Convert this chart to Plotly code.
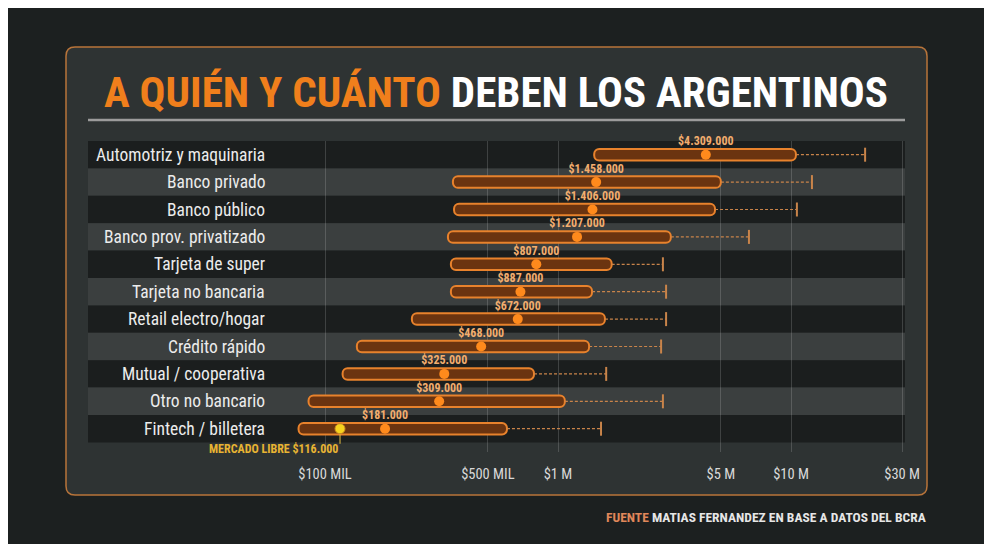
import numpy as np
import plotly.graph_objects as go

categories = [
    "Automotriz y maquinaria", "Banco privado", "Banco público",
    "Banco prov. privatizado", "Tarjeta de super", "Tarjeta no bancaria",
    "Retail electro/hogar", "Crédito rápido", "Mutual / cooperativa",
    "Otro no bancario", "Fintech / billetera",
]
low = [1430000, 354000, 358000, 337000, 347000, 347000, 236000, 137000, 119000, 85000, 77000]
high = [10500000, 5000000, 4720000, 3050000, 1700000, 1400000, 1590000, 1360000, 789000, 1070000, 604000]
median = [4309000, 1458000, 1406000, 1207000, 807000, 690000, 672000, 468000, 325000, 309000, 181000]
median_labels = ["$4.309.000", "$1.458.000", "$1.406.000", "$1.207.000", "$807.000", "$887.000",
                 "$672.000", "$468.000", "$325.000", "$309.000", "$181.000"]
top = [20800000, 12300000, 10600000, 6600000, 2820000, 2910000, 2910000, 2770000, 1610000, 2820000, 1530000]

ml_value = 116000
ml_label = "MERCADO LIBRE $116.000"

tick_vals = [1e5, 5e5, 1e6, 5e6, 1e7, 3e7]
tick_text = ["$100 MIL", "$500 MIL", "$1 M", "$5 M", "$10 M", "$30 M"]

FONT = "Roboto Condensed, Liberation Sans Narrow, DejaVu Sans Condensed, Roboto, sans-serif"
ORANGE = "#f07f1c"

# page body has an 8px margin, so the figure is shifted by OFF
OFF = 8
W, H = 992 - OFF, 544 - OFF
# plot area in screen pixels
L, R, T, B = 88, 905, 141, 452


def px(x):
    return (x - L) / (R - L)


def py(y):
    return (B - y) / (B - T)


def rounded_rect(x0, y0, x1, y1, r):
    pts = [
        f"M {px(x0 + r)},{py(y0)}", f"L {px(x1 - r)},{py(y0)}", f"Q {px(x1)},{py(y0)} {px(x1)},{py(y0 + r)}",
        f"L {px(x1)},{py(y1 - r)}", f"Q {px(x1)},{py(y1)} {px(x1 - r)},{py(y1)}",
        f"L {px(x0 + r)},{py(y1)}", f"Q {px(x0)},{py(y1)} {px(x0)},{py(y1 - r)}",
        f"L {px(x0)},{py(y0 + r)}", f"Q {px(x0)},{py(y0)} {px(x0 + r)},{py(y0)}", "Z",
    ]
    return " ".join(pts)


n = len(categories)
rows = list(range(n))

fig = go.Figure()

# dashed whiskers from box end to max
wx, wy = [], []
for i in rows:
    wx += [high[i], top[i], None]
    wy += [i, i, None]
fig.add_trace(go.Scatter(x=wx, y=wy, mode="lines",
                         line=dict(color="#c9844a", width=1.2, dash="3px,2px"), hoverinfo="skip"))
fig.add_trace(go.Scatter(x=top, y=rows, mode="markers",
                         marker=dict(symbol="line-ns", size=10, line=dict(color="#c9844a", width=2)),
                         hoverinfo="skip"))

# range boxes
fig.add_trace(go.Bar(
    y=rows, x=[h - l for h, l in zip(high, low)], base=low, orientation="h", width=0.42,
    marker=dict(color="#6b3410", line=dict(color="#e8822c", width=2), cornerradius=5),
    hoverinfo="skip",
))

# medians
fig.add_trace(go.Scatter(
    x=median, y=rows, mode="markers", marker=dict(color="#ff8a1c", size=10), hoverinfo="skip",
))
# median value labels, just above the dot
fig.add_trace(go.Scatter(
    x=median, y=[i - 0.46 for i in rows], mode="text", cliponaxis=False,
    text=[f"<b>{t}</b>" for t in median_labels], textposition="middle center",
    textfont=dict(family=FONT, size=12, color="#f2ad6e"),
    hoverinfo="skip",
))

# Mercado Libre reference
fig.add_trace(go.Scatter(x=[ml_value, ml_value], y=[n - 1 + 0.2, n - 1 + 0.55], mode="lines",
                         line=dict(color="#e8c040", width=1), hoverinfo="skip"))
fig.add_trace(go.Scatter(x=[ml_value], y=[n - 1], mode="markers",
                         marker=dict(color="#f6d21e", size=10, line=dict(color="#c98a20", width=1)),
                         hoverinfo="skip"))

shapes = [
    dict(type="path", xref="paper", yref="paper", path=rounded_rect(66, 47, 927, 495, 9),
         fillcolor="#2e3333", line=dict(color="#b8743a", width=1.5), layer="below"),
    dict(type="line", xref="paper", yref="paper", x0=px(88), x1=px(905), y0=py(120), y1=py(120),
         line=dict(color="#9c9c9c", width=2.5)),
]
for i in rows:
    shapes.append(dict(type="rect", xref="x domain", yref="y", x0=0, x1=1, y0=i - 0.5, y1=i + 0.5,
                       fillcolor="#1b1e1e" if i % 2 == 0 else "#3b3f3f", line=dict(width=0),
                       layer="below"))

annotations = [
    dict(xref="paper", yref="paper", x=px(496), y=py(92), xanchor="center", yanchor="middle",
         showarrow=False,
         text=f"<b><span style='color:{ORANGE}'>A QUIÉN Y CUÁNTO</span> DEBEN LOS ARGENTINOS</b>",
         font=dict(family=FONT, size=43, color="#ffffff")),
    dict(xref="paper", yref="paper", x=px(928), y=py(517), xanchor="right", yanchor="middle",
         showarrow=False,
         text="<b><span style='color:#e0875a'>FUENTE</span> MATIAS FERNANDEZ EN BASE A DATOS DEL BCRA</b>",
         font=dict(family=FONT, size=13.5, color="#e6e6e6")),
    dict(xref="x", yref="y", x=np.log10(ml_value), y=n - 1 + 0.73, xanchor="right", yanchor="middle",
         showarrow=False, text=f"<b>{ml_label}</b>", font=dict(family=FONT, size=12, color="#e8b432")),
]
for i, c in enumerate(categories):
    annotations.append(dict(xref="paper", yref="y", x=px(267), y=i, xanchor="right", yanchor="middle",
                            showarrow=False, text=c, font=dict(family=FONT, size=17.5, color="#ececec")))

fig.update_layout(
    width=W, height=H,
    margin=dict(l=L - OFF, r=992 - R, t=T - OFF, b=544 - B),
    paper_bgcolor="#1c2020", plot_bgcolor="rgba(0,0,0,0)",
    showlegend=False, shapes=shapes, annotations=annotations,
    xaxis=dict(type="log", range=[5 - (325 - L) / 233, 5 + (R - 325) / 233],
               tickvals=tick_vals, ticktext=tick_text, showgrid=True,
               gridcolor="rgba(255,255,255,0.16)", gridwidth=1, zeroline=False, showline=False,
               ticks="outside", ticklen=9, tickcolor="rgba(0,0,0,0)",
               tickfont=dict(family=FONT, size=14.5, color="#d9d9d9")),
    yaxis=dict(range=[n - 1 + 0.85, -0.5], showticklabels=False, showgrid=False, zeroline=False),
)

fig.write_html("out.html")
